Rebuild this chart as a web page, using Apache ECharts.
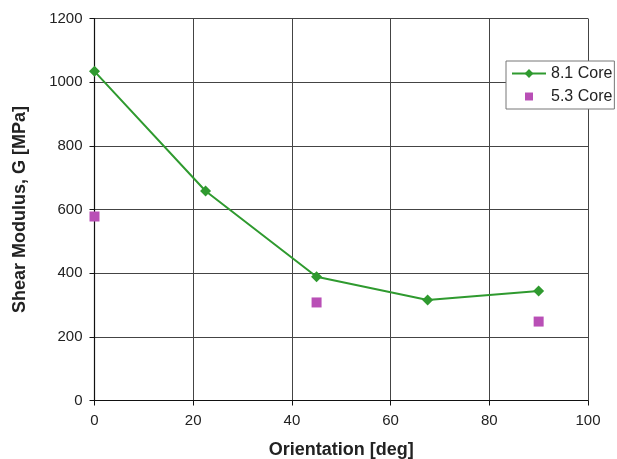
<!DOCTYPE html>
<html><head><meta charset="utf-8">
<script src="https://cdn.jsdelivr.net/npm/echarts@6/dist/echarts.min.js"></script>
<style>html,body{margin:0;padding:0;background:#fff}#c{width:617px;height:459px}</style>
</head><body><div id="c"></div>
<script>
const core81X = [0, 22.5, 45, 67.5, 90];
const core81Y = [1034, 658, 389, 316, 344];
const core53X = [0, 45, 90];
const core53Y = [578, 308, 248];
const xTicks = [0, 20, 40, 60, 80, 100];
const yTicks = [0, 200, 400, 600, 800, 1000, 1200];

const chart = echarts.init(document.getElementById('c'));
const font = 'Liberation Sans, Arial, Helvetica, sans-serif';
chart.setOption({
  animation: false,
  backgroundColor: '#fff',
  grid: {left: 94.5, right: 29, top: 18.5, bottom: 58.5, containLabel: false, outerBoundsMode: 'none'},
  xAxis: {
    type: 'value', min: xTicks[0], max: xTicks[xTicks.length-1], interval: 20,
    name: 'Orientation [deg]', nameLocation: 'middle', nameGap: 41,
    nameTextStyle: {fontFamily: font, fontSize: 18, fontWeight: 'bold', color: '#222'},
    axisLine: {lineStyle: {color: '#111', width: 1.2}},
    axisTick: {show: true, inside: false, length: 5, lineStyle: {color: '#111'}},
    axisLabel: {fontFamily: font, fontSize: 15, color: '#222', margin: 13, formatter: v => String(v)},
    splitLine: {show: true, lineStyle: {color: '#444', width: 1}}
  },
  yAxis: {
    type: 'value', min: yTicks[0], max: yTicks[yTicks.length-1], interval: 200,
    name: 'Shear Modulus, G [MPa]', nameLocation: 'middle', nameGap: 65,
    nameTextStyle: {fontFamily: font, fontSize: 18, fontWeight: 'bold', color: '#222'},
    axisLine: {show: true, lineStyle: {color: '#111', width: 1.2}},
    axisTick: {show: true, inside: false, length: 5, lineStyle: {color: '#111'}},
    axisLabel: {fontFamily: font, fontSize: 15, color: '#222', margin: 12, formatter: v => String(v)},
    splitLine: {show: true, lineStyle: {color: '#444', width: 1}}
  },
  legend: {
    orient: 'vertical', left: 506, top: 61,
    backgroundColor: '#fff', borderColor: '#777', borderWidth: 1,
    padding: [4.5, 2, 4.5, 5], itemWidth: 34, itemHeight: 11, itemGap: 7,
    textStyle: {fontFamily: font, fontSize: 16, color: '#222'},
    data: [
      {name: '8.1 Core'},
      {name: '5.3 Core', icon: 'path://M-0.19,-0.19M1.19,1.19M0,0L1,0L1,1L0,1Z'}
    ]
  },
  series: [
    {
      name: '8.1 Core', type: 'line',
      data: core81X.map((x, i) => [x, core81Y[i]]),
      symbol: 'diamond', symbolSize: 11,
      lineStyle: {color: '#2f9a2f', width: 2},
      itemStyle: {color: '#2f9a2f'}
    },
    {
      name: '5.3 Core', type: 'scatter',
      data: core53X.map((x, i) => [x, core53Y[i]]),
      symbol: 'rect', symbolSize: 10,
      itemStyle: {color: '#b94fb6', opacity: 1}
    }
  ]
});
</script></body></html>
